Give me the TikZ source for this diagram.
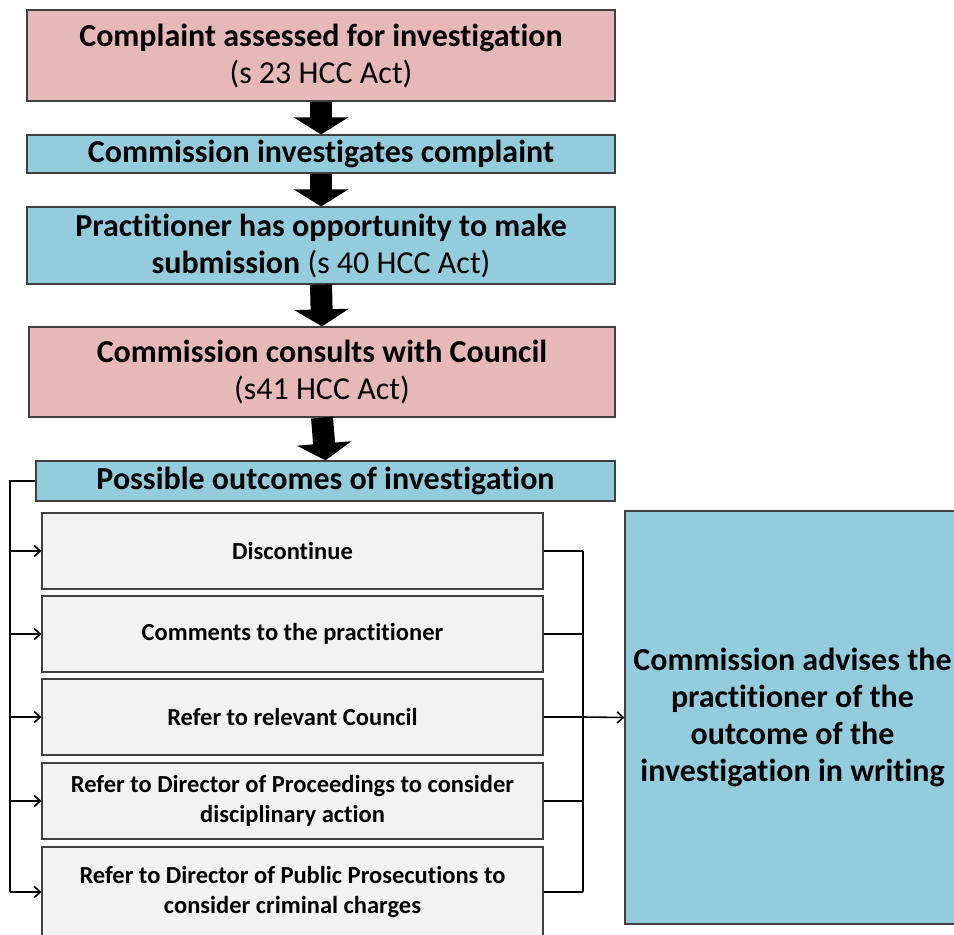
\documentclass[tikz,border=0pt]{standalone}
\usepackage{fontspec}
\setmainfont{Carlito}[Ligatures=NoCommon]
\usepackage{xcolor}
\usepackage{tikz}
\usetikzlibrary{arrows.meta,positioning,calc}
\definecolor{stagepink}{HTML}{E6B9B8}
\definecolor{stageblue}{HTML}{93CDDD}
\definecolor{outcomegrey}{HTML}{F2F2F2}
\definecolor{edgegrey}{HTML}{404040}

\begin{document}
\begin{tikzpicture}[x=1pt,y=-1pt,>=Latex]
\tikzstyle{stagebox}=[draw=edgegrey,line width=1.2pt,align=center,inner sep=0pt,font=\bfseries\fontsize{32}{37}\selectfont]
\tikzstyle{outcomebox}=[draw=edgegrey,line width=1.2pt,fill=outcomegrey,align=center,inner sep=0pt,minimum width=501pt,minimum height=76pt,font=\bfseries\fontsize{24.5}{30}\selectfont]
\tikzstyle{stagelink}=[line width=22pt,-{Triangle[width=54pt,length=17pt]}]
\tikzstyle{thinlink}=[line width=1.6pt,-{Straight Barb[length=6pt,width=11pt]}]
\newcommand{\stagearrow}[2]{\draw[stagelink] (#1.south) -- (#2.north);}
\useasboundingbox (0,0) rectangle (954,935);
% stages
\node[stagebox,fill=stagepink,minimum width=588pt,minimum height=91pt] (assess) at (321,55.5) {Complaint assessed for investigation\\{\mdseries (s 23 HCC Act)}};
\node[stagebox,fill=stageblue,minimum width=588pt,minimum height=38pt] (invest) at (321,154) {Commission investigates complaint};
\node[stagebox,fill=stageblue,minimum width=588pt,minimum height=77pt] (submit) at (321,245.5) {Practitioner has opportunity to make\\submission {\mdseries (s 40 HCC Act)}};
\node[stagebox,fill=stagepink,minimum width=586pt,minimum height=90pt] (consult) at (322,372) {Commission consults with Council\\{\mdseries (s41 HCC Act)}};
\node[stagebox,fill=stageblue,minimum width=579pt,minimum height=40pt] (outcomes) at (325.5,481) {Possible outcomes of investigation};
\stagearrow{assess}{invest}
\stagearrow{invest}{submit}
\stagearrow{submit}{consult}
\stagearrow{consult}{outcomes}
% outcomes
\node[outcomebox] (discont) at (292.5,551) {Discontinue};
\node[outcomebox] (comments) at (292.5,634) {Comments to the practitioner};
\node[outcomebox] (council) at (292.5,717) {Refer to relevant Council};
\node[outcomebox] (dop) at (292.5,801) {Refer to Director of Proceedings to consider\\disciplinary action};
\node[outcomebox,minimum height=90pt] (dpp) at (292.5,892) {Refer to Director of Public Prosecutions to\\consider criminal charges};
\node[stagebox,fill=stageblue,minimum width=335pt,minimum height=413pt] (advise) at (792.5,717.5) {Commission advises the\\practitioner of the\\outcome of the\\investigation in writing};
\coordinate (leftrail) at (10,481);
\coordinate (rightrail) at (583,717);
\draw[line width=1.6pt] (outcomes.west) -- (leftrail) -- (leftrail |- dpp.west);
\foreach \o in {discont,comments,council,dop,dpp}{
\draw[thinlink] (leftrail |- \o.west) -- (\o.west);
\draw[line width=1.6pt] (\o.east) -- (rightrail |- \o.east);
}
\draw[line width=1.6pt] (rightrail |- discont.east) -- (rightrail |- dpp.east);
\draw[thinlink] (rightrail) -- (advise.west);
\end{tikzpicture}
\end{document}
